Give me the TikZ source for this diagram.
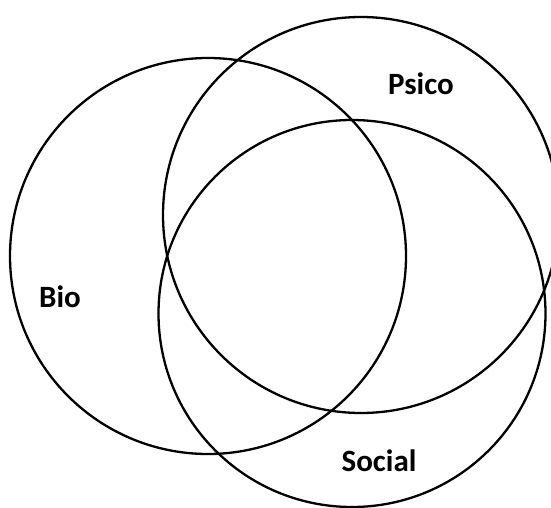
\documentclass[tikz,border=0pt]{standalone}
\usepackage{fontspec}
\setmainfont{Carlito}
\begin{document}
\begin{tikzpicture}[x=1pt,y=-1pt,
  setcircle/.style={circle,draw=black,line width=2.3pt,inner sep=0pt},
  setlabel/.style={font=\fontsize{31}{36}\selectfont\bfseries,anchor=base,inner sep=0pt}]
\useasboundingbox (0,0) rectangle (551,508);
\node[setcircle,minimum size=396pt] (bio) at (208,256) {};
\node[setcircle,minimum size=396pt] (psico) at (361,215) {};
\node[setcircle,minimum size=387pt] (social) at (352,313.5) {};
\node[setlabel] (psicolabel) at (421,95) {Psico};
\node[setlabel] (biolabel) at (60,307) {Bio};
\node[setlabel] (sociallabel) at (379,471) {Social};
\end{tikzpicture}
\end{document}
